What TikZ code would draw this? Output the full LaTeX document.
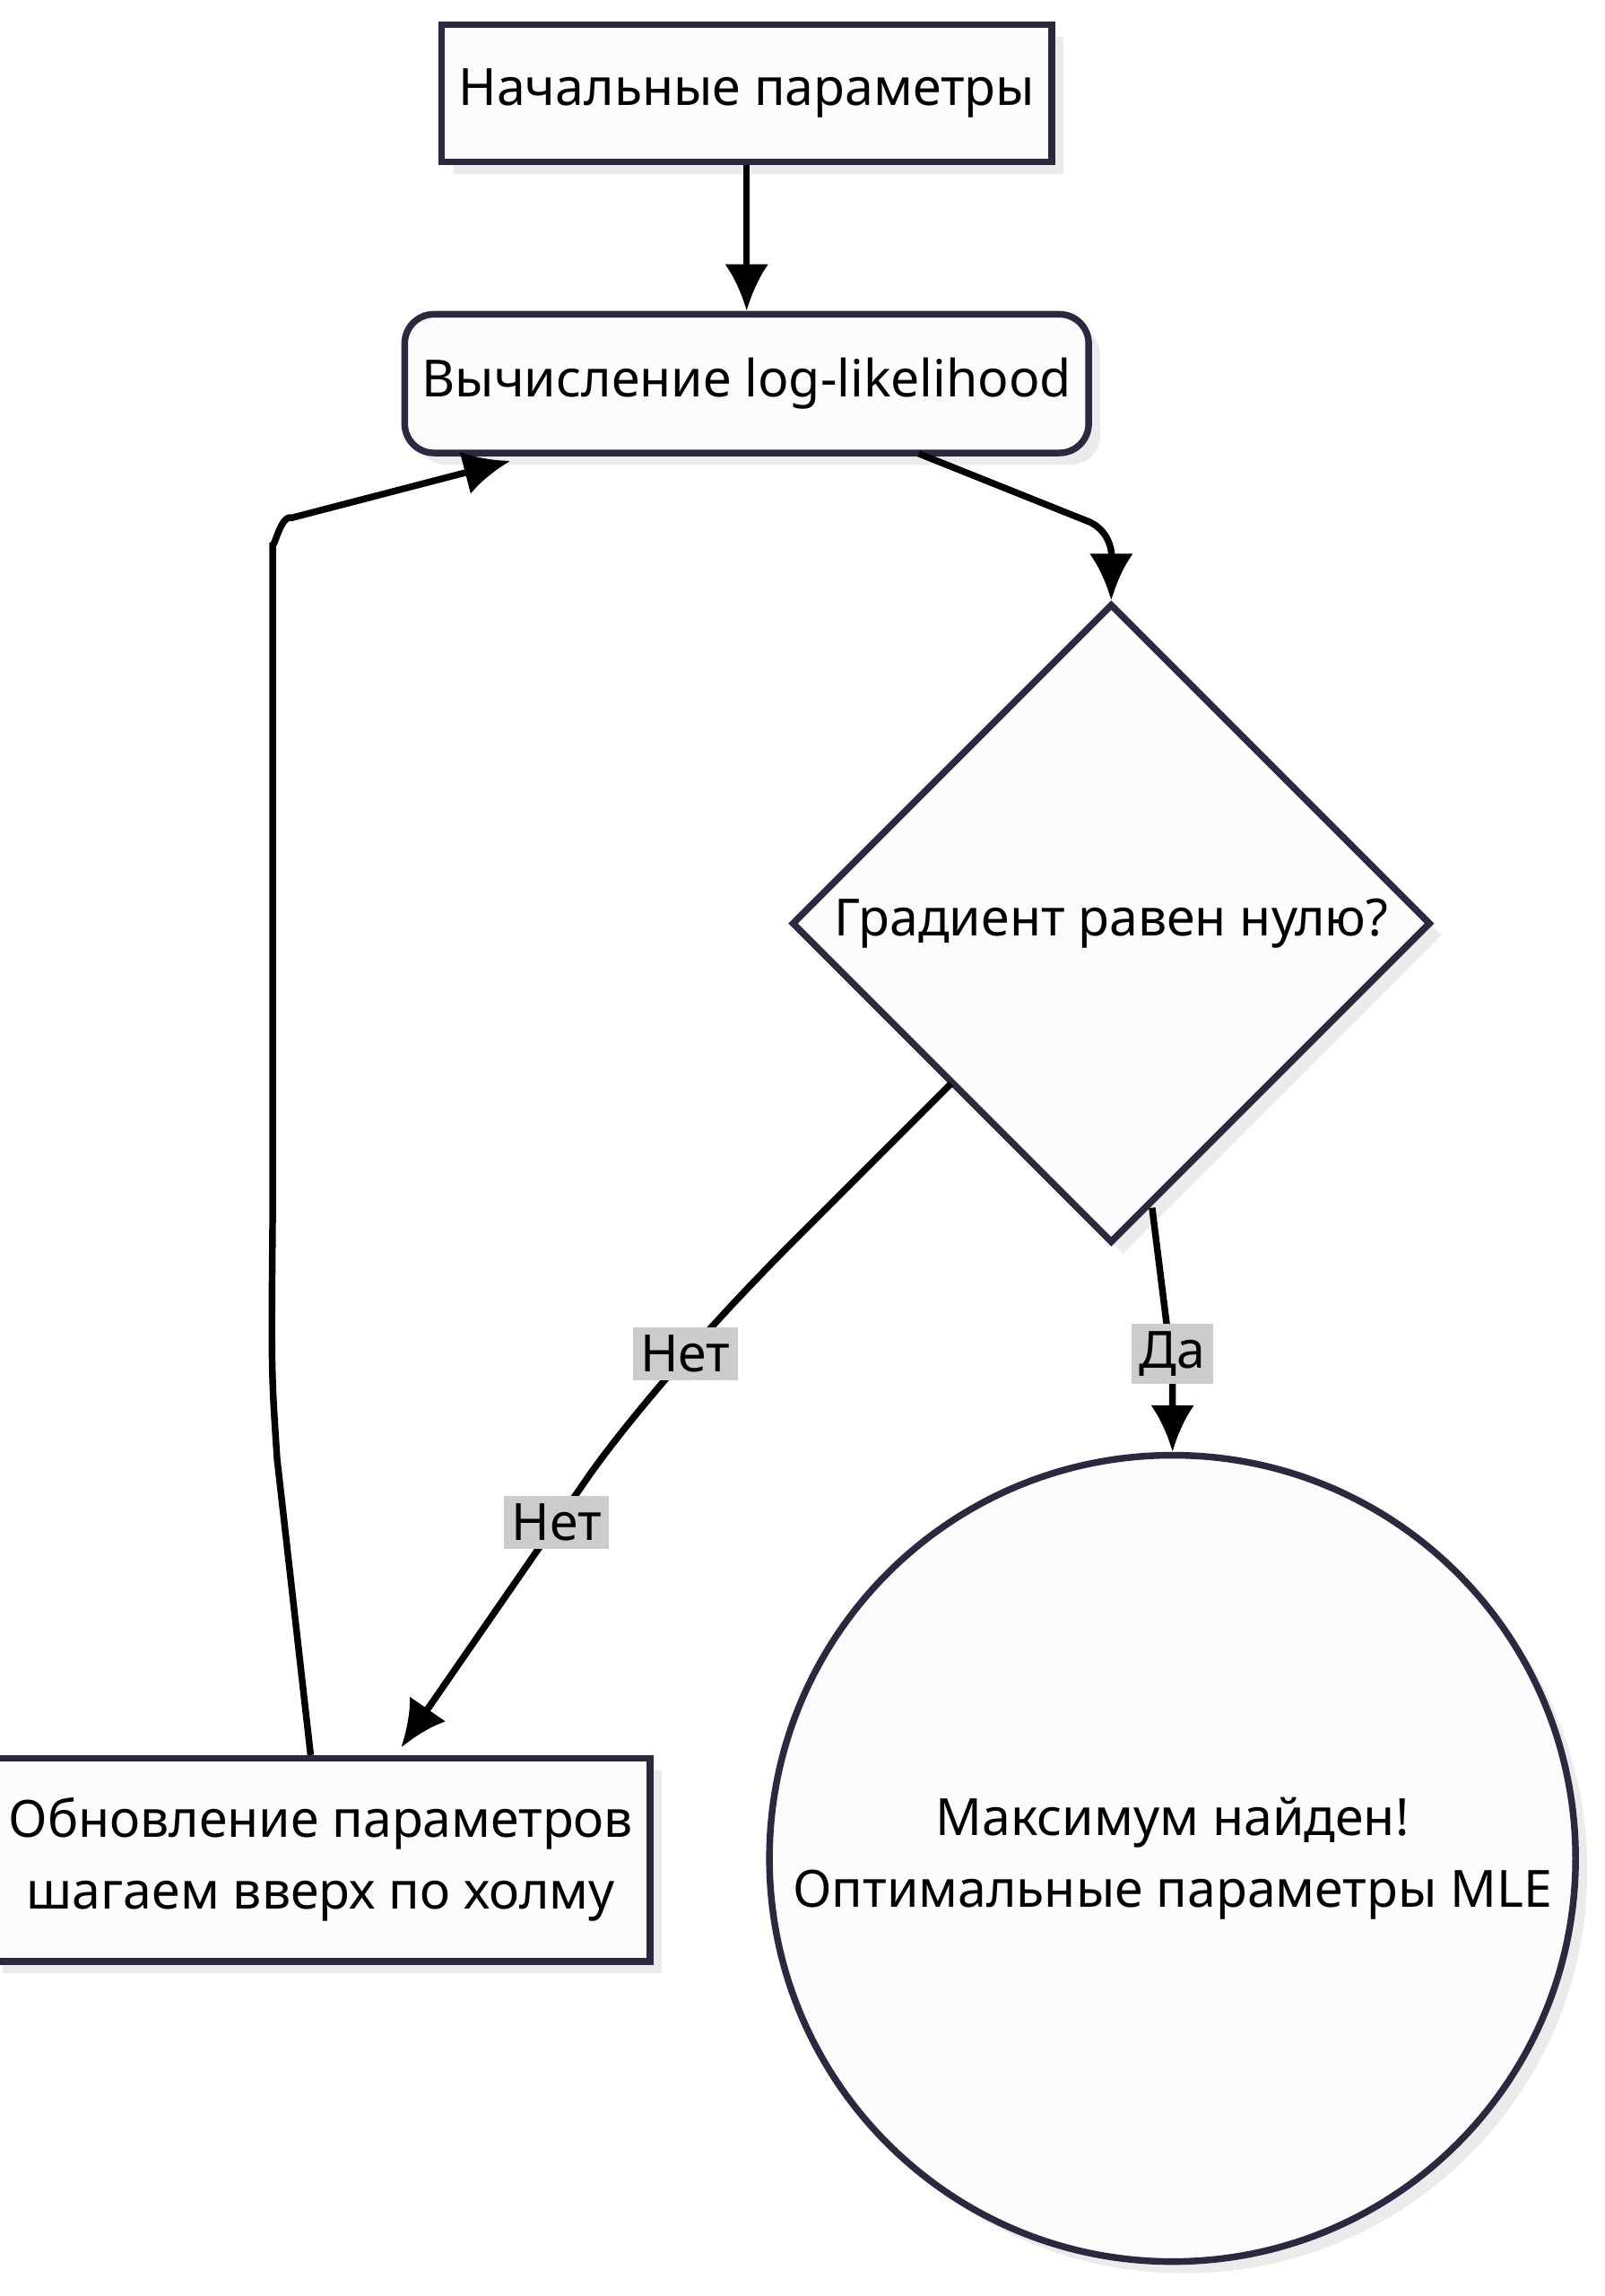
\documentclass[tikz,border=0pt]{standalone}
\usepackage{fontspec}
\setmainfont{Noto Sans}
\usetikzlibrary{shapes.geometric,arrows.meta}
\definecolor{edgeline}{HTML}{2B2840}
\definecolor{fillbg}{HTML}{FCFCFD}
\definecolor{lblbg}{HTML}{CCCCCC}
\tikzset{
  procbox/.style={draw=edgeline, line width=1.3pt, fill=fillbg, font=\fontsize{10}{14}\selectfont,
    drop shadow={shadow xshift=0.08cm, shadow yshift=-0.08cm, fill=black!8, opacity=1}},
  flow/.style={line width=1.3pt, -{Latex[length=3.2mm,width=3mm]}},
  lbl/.style={fill=lblbg, inner sep=1.5pt, font=\fontsize{10}{12}\selectfont}
}
\usetikzlibrary{shadows}
\begin{document}
\begin{tikzpicture}[x=0.01cm, y=-0.01cm]
  \useasboundingbox (0,0) rectangle (1100,1574);
  % nodes
  \node[procbox, minimum width=3.83cm, minimum height=0.94cm] (start) at (512,64) {Начальные параметры};
  \node[procbox, rounded corners=0.2cm, minimum width=4.49cm, minimum height=0.95cm] (loglik) at (512,263) {Вычисление log-likelihood};
  \node[procbox, diamond, aspect=1, minimum width=4.38cm, minimum height=4.38cm, inner sep=0pt] (grad) at (762,633) {Градиент равен нулю?};
  \node[procbox, align=center, minimum width=4.09cm, minimum height=1.39cm] (update) at (220,1275) {Обновление параметров\\шагаем вверх по холму};
  \node[procbox, circle, align=center, minimum size=5.52cm] (result) at (804,1274) {Максимум найден!\\Оптимальные параметры MLE};
  % connectors
  \draw[flow] (start) -- (loglik);
  \draw[flow] (630,311) -- (745,357) to[out=-20,in=90] (grad.north);
  \draw[flow] (652,743) -- (545,850) .. controls (480,915) and (430,975) .. (405,1010) -- (275,1198)
    node[lbl, pos=0.18] (no) at (470,928) {Нет};
  \node[lbl] (nolbl) at (470,928) {Нет};
  \draw[flow] (790,828) -- (804,940) -- (result.north);
  \node[lbl] (yeslbl) at (804,928) {Да};
  \draw[flow] (update.north) ++(-7,0) -- (190,1000) .. controls (186,940) .. (187,830) -- (187,372)
    to[out=-90,in=160] (200,355) -- (350,316);
\end{tikzpicture}
\end{document}
